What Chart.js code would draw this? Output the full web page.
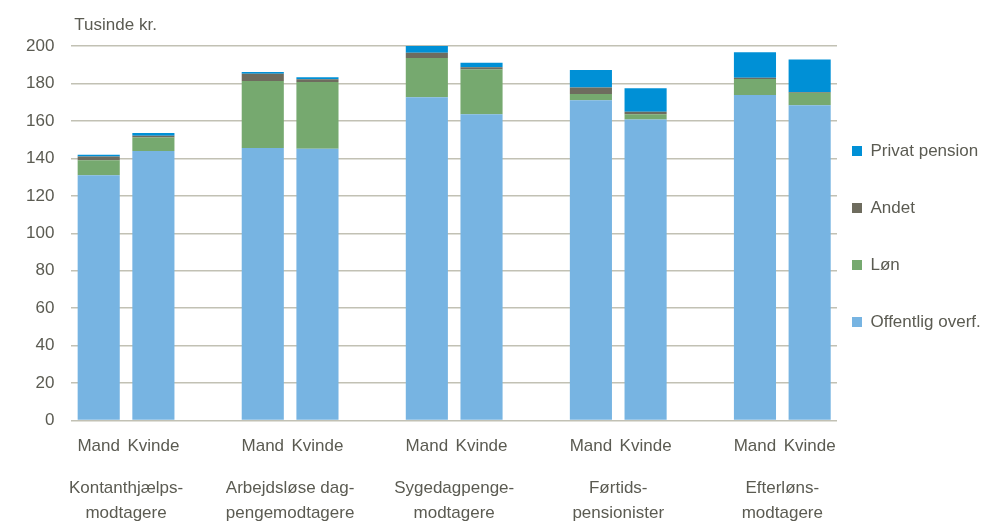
<!DOCTYPE html>
<html>
<head>
<meta charset="utf-8">
<script src="https://cdn.jsdelivr.net/npm/chart.js@4/dist/chart.umd.min.js"></script>
<style>
  html, body { margin: 0; padding: 0; background: #fff; }
  #wrap { width: 982px; height: 524px; }
</style>
</head>
<body>
<div id="wrap"><canvas id="chart"></canvas></div>
<script>
// Grupper og køn
const grupper = [
    ['Kontanthjælps-', 'modtagere'],
    ['Arbejdsløse dag-', 'pengemodtagere'],
    ['Sygedagpenge-', 'modtagere'],
    ['Førtids-', 'pensionister'],
    ['Efterløns-', 'modtagere']
];
const koen = ['Mand', 'Kvinde'];

// Værdier pr. gruppe: [Mand, Kvinde, Mand, Kvinde, ...] (tusinde kr.)
const offentlig = [131, 143.9, 145.6, 145.2, 172.6, 163.5, 171, 160.8, 173.8, 168.4];
const loen      = [8, 7.3, 35.7, 35.6, 21, 24, 3.4, 2.7, 8.6, 6.6];
const andet     = [2, 0.9, 3.9, 1.4, 2.8, 1.1, 3.4, 1.4, 0.7, 0.5];
const privat    = [1, 1.5, 0.9, 1.1, 3.7, 2.5, 9.4, 12.5, 13.6, 17.3];

const yTicks = [0, 20, 40, 60, 80, 100, 120, 140, 160, 180, 200];

const fontFam = "'Liberation Sans Narrow', 'Arial Narrow', 'Liberation Sans', sans-serif";
const textColor = '#5b5b52';

// 14 pladser: to søjler pr. gruppe og en tom plads imellem
const labels = [];
const gruppeIdx = [];
grupper.forEach((g, i) => {
    if (i > 0) { labels.push(''); gruppeIdx.push(-1); }
    koen.forEach(k => { labels.push(k); gruppeIdx.push(i); });
});

function medHuller(arr) {
    const out = [];
    let j = 0;
    gruppeIdx.forEach(g => out.push(g < 0 ? null : arr[j++]));
    return out;
}

const data = {
    labels: labels,
    datasets: [
        { label: 'Offentlig overf.', data: medHuller(offentlig), backgroundColor: '#77b4e2' },
        { label: 'Løn', data: medHuller(loen), backgroundColor: '#76a96f' },
        { label: 'Andet', data: medHuller(andet), backgroundColor: '#6e6c5e' },
        { label: 'Privat pension', data: medHuller(privat), backgroundColor: '#0090d6' }
    ]
};

// Tegner gruppenavne under "Mand Kvinde" samt enhedsteksten
const ekstraTekst = {
    id: 'ekstraTekst',
    afterDraw(chart) {
        const ctx = chart.ctx;
        const x = chart.scales.x;
        const area = chart.chartArea;
        ctx.save();
        ctx.fillStyle = textColor;
        ctx.font = '17px ' + fontFam;
        ctx.textAlign = 'center';
        ctx.textBaseline = 'middle';
        grupper.forEach((g, i) => {
            const first = gruppeIdx.indexOf(i);
            const mid = (x.getPixelForValue(first) + x.getPixelForValue(first + 1)) / 2;
            ctx.fillText(g[0], mid, area.bottom + 68);
            ctx.fillText(g[1], mid, area.bottom + 93);
        });
        ctx.textAlign = 'left';
        ctx.fillText('Tusinde kr.', area.left + 3, area.top - 21);
        ctx.restore();
    }
};

// Smallere legende, flyttet lidt så den ligner originalen
const legendeFlyt = {
    id: 'legendeFlyt',
    beforeInit(chart) {
        const legend = chart.legend;
        const fit = legend.fit;
        legend.fit = function () { fit.call(this); this.width = 145; };
        const draw = legend.draw;
        legend.draw = function (area) {
            const l = this.left, t = this.top, b = this.bottom;
            this.left -= 25; this.top -= 19; this.bottom -= 19;
            draw.call(this, area);
            this.left = l; this.top = t; this.bottom = b;
        };
    }
};

const conf = {
    type: 'bar',
    data: data,
    plugins: [ekstraTekst, legendeFlyt],
    options: {
        responsive: true,
        maintainAspectRatio: false,
        animation: false,
        layout: { padding: { top: 46, bottom: 59, left: 9, right: 0 } },
        datasets: { bar: { categoryPercentage: 1, barPercentage: 0.77 } },
        scales: {
            x: {
                stacked: true,
                grid: { display: false },
                border: { display: false },
                ticks: {
                    color: textColor,
                    font: { family: fontFam, size: 17 },
                    padding: 8,
                    maxRotation: 0,
                    autoSkip: false
                }
            },
            y: {
                stacked: true,
                min: 0,
                max: 200,
                afterBuildTicks: axis => { axis.ticks = yTicks.map(v => ({ value: v })); },
                grid: { color: '#c2c1b4', lineWidth: 1.5, drawTicks: false },
                border: { display: false },
                ticks: {
                    color: textColor,
                    font: { family: fontFam, size: 17 },
                    padding: 17
                }
            }
        },
        plugins: {
            legend: {
                position: 'right',
                reverse: true,
                labels: {
                    color: textColor,
                    font: { family: fontFam, size: 17 },
                    boxWidth: 10,
                    boxHeight: 10,
                    padding: 40
                }
            },
            tooltip: { enabled: true }
        }
    }
};

const chart = new Chart(document.getElementById('chart'), conf);
</script>
</body>
</html>
